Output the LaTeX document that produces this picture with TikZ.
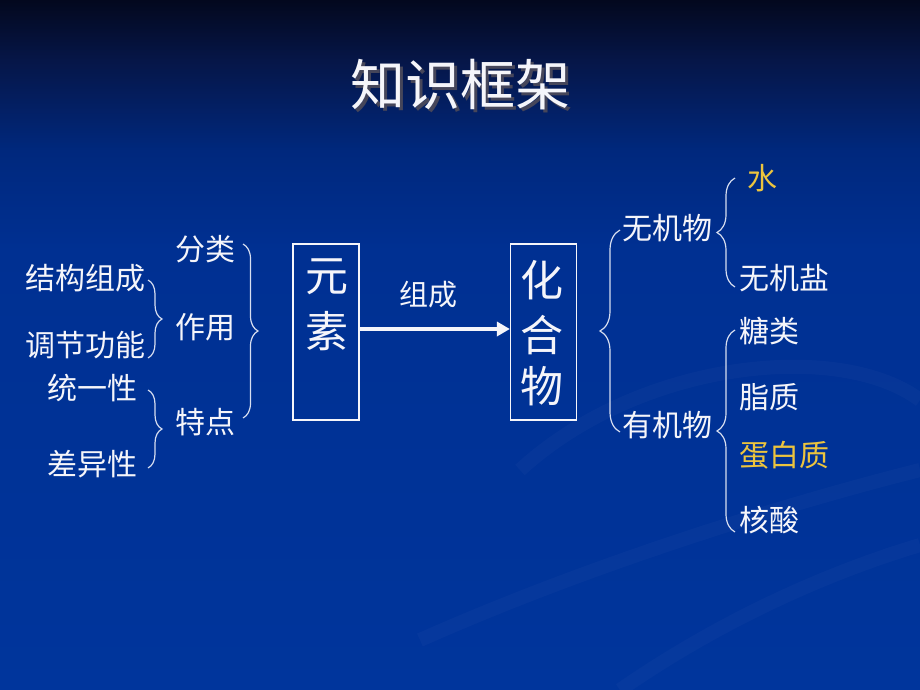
\documentclass[tikz,border=0pt]{standalone}
\usepackage{fontspec}
\newfontfamily\cjk{Noto Sans CJK SC}
\usetikzlibrary{arrows.meta,decorations.pathreplacing}
\definecolor{c0}{RGB}{3,8,30}
\definecolor{c1}{RGB}{6,22,72}
\definecolor{c2}{RGB}{0,40,125}
\definecolor{c3}{RGB}{0,48,146}
\definecolor{c4}{RGB}{0,53,156}
\definecolor{txt}{RGB}{245,245,250}
\definecolor{gold}{RGB}{236,196,62}
\definecolor{bracec}{RGB}{215,222,240}
\pgfdeclareverticalshading{bgshade}{100bp}{color(0bp)=(c4); color(25bp)=(c4); color(56.9bp)=(c3); color(64.1bp)=(c2); color(70.6bp)=(c1); color(75bp)=(c0); color(100bp)=(c0)}
\tikzset{
  lbl/.style={inner sep=0pt, text=txt, font=\cjk\fontsize{30}{36}\selectfont},
  goldlbl/.style={lbl, text=gold},
  boxtxt/.style={inner sep=0pt, text=txt, font=\cjk\fontsize{43}{50}\selectfont},
  frame/.style={draw=txt, line width=1.2pt, minimum width=66pt, minimum height=176pt, inner sep=0pt},
  brc/.style={draw=bracec, line width=1.2pt, decorate, decoration={brace, amplitude=#1}},
  swirl/.style={white, opacity=0.025, line width=14pt}
}
\begin{document}
\begin{tikzpicture}[x=1pt,y=-1pt]
\useasboundingbox (0,0) rectangle (920,690);
\shade[shading=bgshade] (0,0) rectangle (920,690);
% faint background swirls
\draw[swirl] (520,470) .. controls (640,360) and (840,340) .. (920,400);
\draw[swirl] (420,640) .. controls (600,560) and (800,500) .. (920,470);
\draw[swirl] (620,690) .. controls (750,600) and (870,560) .. (920,545);
% title
\node[inner sep=0pt, text={rgb,255:red,70;green,70;blue,90}, font=\cjk\fontsize{55}{60}\selectfont] (titleshadow) at (463,88) {知识框架};
\node[inner sep=0pt, text=txt, font=\cjk\fontsize{55}{60}\selectfont] (title) at (460,85) {知识框架};
% left texts
\node[lbl, anchor=west] (jg) at (25,278) {结构组成};
\node[lbl, anchor=west] (tj) at (25,345) {调节功能};
\node[lbl, anchor=west] (ty) at (47,388) {统一性};
\node[lbl, anchor=west] (cy) at (47,464) {差异性};
\node[lbl, anchor=west] (fl) at (175,249) {分类};
\node[lbl, anchor=west] (zy) at (175,327) {作用};
\node[lbl, anchor=west] (td) at (175,422) {特点};
% left braces
\coordinate (b1t) at (148,280); \coordinate (b1b) at (148,358);
\coordinate (b2t) at (148,390); \coordinate (b2b) at (148,468);
\coordinate (b3t) at (243,244); \coordinate (b3b) at (243,418);
\draw[brc=14pt] (b1t) -- (b1b);
\draw[brc=14pt] (b2t) -- (b2b);
\draw[brc=15pt] (b3t) -- (b3b);
% boxes
\node[frame] (ysbox) at (326,332) {};
\node[boxtxt] (yuan) at (326.5,277) {元};
\node[boxtxt] (su) at (326.5,331) {素};
\node[frame] (hhbox) at (543.5,332) {};
\node[boxtxt] (hua) at (542,280) {化};
\node[boxtxt] (he) at (542,335) {合};
\node[boxtxt] (wu) at (542,386) {物};
% arrow
\draw[txt, line width=3.6pt, -{Triangle[length=13pt,width=14pt]}] ([yshift=3pt]ysbox.east) -- ([yshift=3pt]hhbox.west);
\node[lbl, font=\cjk\fontsize{29}{34}\selectfont] (zc) at (428,295) {组成};
% right side
\coordinate (b4t) at (620,230); \coordinate (b4b) at (620,432);
\draw[brc=20pt] (b4b) -- (b4t);
\node[lbl, anchor=west] (wj) at (622,228) {无机物};
\node[lbl, anchor=west] (yj) at (622,425) {有机物};
\coordinate (b5t) at (735,178); \coordinate (b5b) at (735,287);
\coordinate (b6t) at (735,330); \coordinate (b6b) at (735,532);
\draw[brc=18pt] (b5b) -- (b5t);
\draw[brc=18pt] (b6b) -- (b6t);
\node[goldlbl, anchor=west] (shui) at (747,178) {水};
\node[lbl, anchor=west] (wjy) at (739,278) {无机盐};
\node[lbl, anchor=west] (tl) at (739,331) {糖类};
\node[lbl, anchor=west] (zz) at (739,397) {脂质};
\node[goldlbl, anchor=west] (dbz) at (739,455) {蛋白质};
\node[lbl, anchor=west] (hs) at (739,520) {核酸};
\end{tikzpicture}
\end{document}
